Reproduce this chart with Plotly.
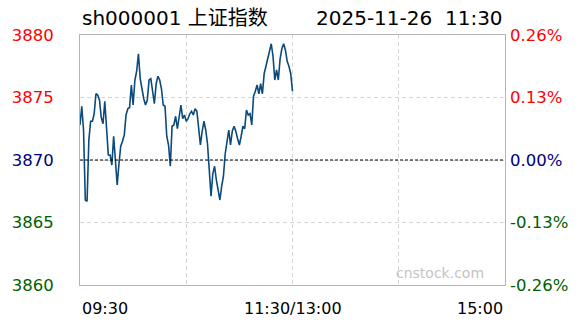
import plotly.graph_objects as go

# ---- data ----
minutes = list(range(121))  # 09:30 .. 11:30, one point per minute
prices = [
    3872.8, 3874.3, 3872.4, 3866.8, 3866.7, 3871.6, 3873.1, 3873.1, 3873.7, 3875.3,
    3875.2, 3874.8, 3873.4, 3872.9, 3874.7, 3872.5, 3870.4, 3870.4, 3869.6, 3871.9,
    3870.2, 3868.0, 3869.7, 3871.1, 3871.5, 3872.0, 3873.6, 3874.1, 3874.2, 3876.0,
    3874.4, 3876.4, 3877.1, 3878.5, 3876.5, 3875.5, 3874.9, 3874.4, 3874.8, 3876.4,
    3876.5, 3875.5, 3874.5, 3876.1, 3876.7, 3876.4, 3875.7, 3874.4, 3874.3, 3871.9,
    3871.2, 3869.5, 3872.7, 3872.8, 3873.5, 3872.5, 3873.6, 3874.4, 3873.3, 3873.6,
    3873.1, 3873.3, 3873.7, 3873.9, 3873.6, 3874.1, 3873.9, 3872.7, 3871.2, 3872.3,
    3873.1, 3872.4, 3871.3, 3869.2, 3867.1, 3868.9, 3869.5, 3868.4, 3867.6, 3866.8,
    3867.9, 3868.7, 3870.5, 3871.3, 3872.4, 3871.2, 3872.3, 3872.7, 3872.3, 3871.7,
    3871.2, 3871.9, 3872.7, 3872.5, 3874.0, 3873.6, 3873.7, 3872.8, 3875.1, 3875.5,
    3876.0, 3875.3, 3876.1, 3875.3, 3876.9, 3877.5, 3878.2, 3878.8, 3879.3, 3878.3,
    3876.4, 3877.2, 3876.4, 3878.1, 3878.9, 3879.3, 3878.8, 3877.9, 3877.5, 3876.9,
    3875.5,
]
prev_close = 3870.0
price_ticks = [3860, 3865, 3870, 3875, 3880]
time_ticks = [0, 60, 120, 180, 240]
time_labels = ["09:30", "11:30/13:00", "15:00"]
title_left = "sh000001 上证指数"
title_right = "2025-11-26\u00a0 11:30"
watermark = "cnstock.com"

RED, NAVY, GREEN = "#ff0000", "#000080", "#006000"
FONT = "DejaVu Sans, Noto Sans CJK SC, sans-serif"


def tick_color(v):
    if v > prev_close:
        return RED
    if v < prev_close:
        return GREEN
    return NAVY


left_text = [f'<span style="color:{tick_color(v)}">{v}</span>' for v in price_ticks]
right_text = [
    f'<span style="color:{tick_color(v)}">{(v - prev_close) / prev_close * 100:.2f}%</span>'
    for v in price_ticks
]

fig = go.Figure()
fig.add_trace(go.Scatter(
    x=minutes, y=prices, mode="lines",
    line=dict(color="#0b4a7c", width=1.6),
    hoverinfo="skip", showlegend=False,
))
# invisible trace to activate right axis
fig.add_trace(go.Scatter(
    x=[minutes[0]], y=[prices[0]], yaxis="y2", mode="lines",
    line=dict(color="rgba(0,0,0,0)"), hoverinfo="skip", showlegend=False,
))

fig.add_shape(type="line", xref="paper", x0=0, x1=1, yref="y", y0=prev_close, y1=prev_close,
              line=dict(color="black", width=1, dash="3px,2px"), layer="above")

fig.update_layout(
    width=588, height=324,
    margin=dict(l=78, r=83, t=35, b=39),
    paper_bgcolor="white", plot_bgcolor="white",
    font=dict(family=FONT, size=16, color="black"),
    xaxis=dict(
        range=[0, 240], tickvals=time_ticks, showticklabels=False,
        showgrid=True, gridcolor="#d4d4d4", griddash="4px,3px", gridwidth=1,
        showline=True, mirror=True, linecolor="#b4b4b4", linewidth=1,
        zeroline=False, fixedrange=True, ticks="",
    ),
    yaxis=dict(
        range=[price_ticks[0], price_ticks[-1]], tickvals=price_ticks, ticktext=left_text,
        showgrid=True, gridcolor="#d4d4d4", griddash="4px,3px", gridwidth=1,
        showline=True, mirror=True, linecolor="#b4b4b4", linewidth=1,
        zeroline=False, ticks="", ticklabelstandoff=22,
        tickfont=dict(family=FONT, size=16.5),
    ),
    yaxis2=dict(
        range=[price_ticks[0], price_ticks[-1]], tickvals=price_ticks, ticktext=right_text,
        overlaying="y", side="right", showgrid=False, zeroline=False, ticks="",
        ticklabelstandoff=4, tickfont=dict(family=FONT, size=16.5),
    ),
    annotations=[
        dict(text=title_left, xref="paper", yref="paper", x=0, y=1.068,
             xanchor="left", yanchor="middle", showarrow=False,
             font=dict(family=FONT, size=20, color="black")),
        dict(text=title_right, xref="paper", yref="paper", x=1, y=1.068,
             xanchor="right", yanchor="middle", showarrow=False,
             font=dict(family=FONT, size=20, color="black")),
        dict(text=time_labels[0], xref="x", yref="paper", x=time_ticks[0], y=-0.092,
             xanchor="left", yanchor="middle", showarrow=False,
             font=dict(family=FONT, size=16, color="black")),
        dict(text=time_labels[1], xref="x", yref="paper", x=time_ticks[2], y=-0.092,
             xanchor="center", yanchor="middle", showarrow=False,
             font=dict(family=FONT, size=16, color="black")),
        dict(text=time_labels[2], xref="x", yref="paper", x=time_ticks[4], y=-0.092,
             xanchor="right", yanchor="middle", showarrow=False,
             font=dict(family=FONT, size=16, color="black")),
        dict(text=watermark, xref="paper", yref="paper", x=0.955, y=0.05,
             xanchor="right", yanchor="middle", showarrow=False,
             font=dict(family=FONT, size=14, color="#c4c4c4")),
    ],
)

fig.write_html("out.html", config={"displayModeBar": False})
